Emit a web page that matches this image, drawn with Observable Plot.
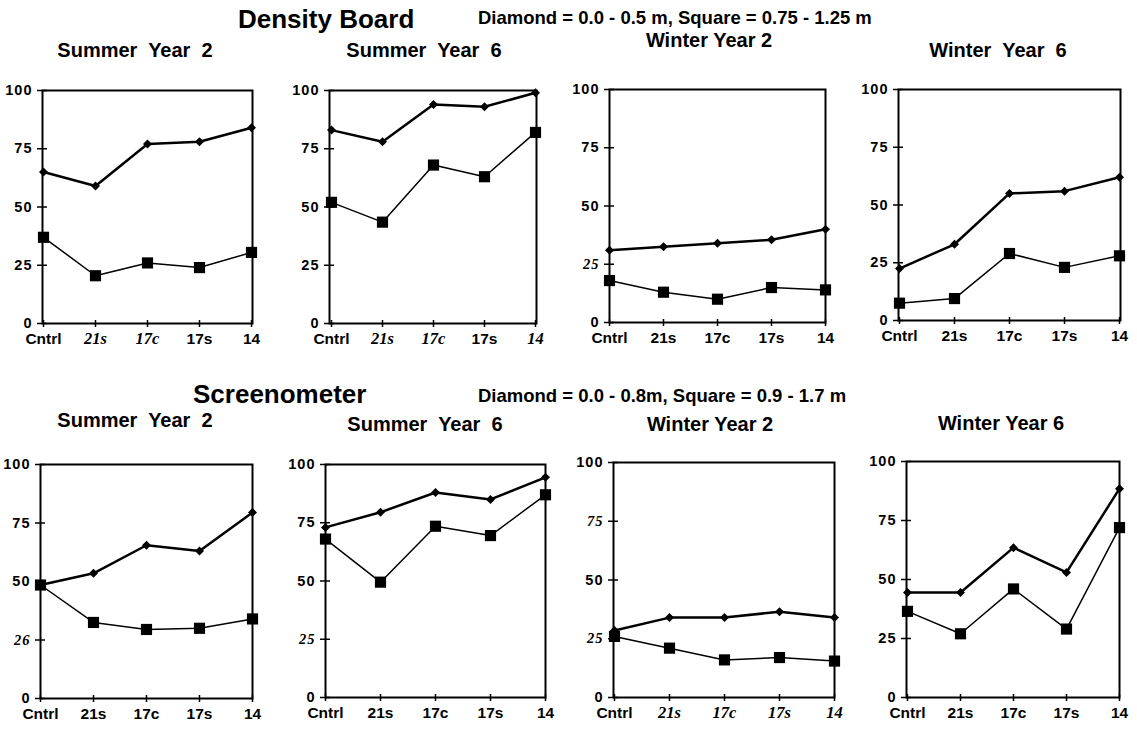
<!DOCTYPE html>
<html><head><meta charset="utf-8">
<script src="https://cdn.jsdelivr.net/npm/d3@7"></script>
<script src="https://cdn.jsdelivr.net/npm/@observablehq/plot@0.6"></script>
<style>
body{margin:0;background:#fff;}
#root{position:relative;width:1137px;height:729px;overflow:hidden;font-family:"Liberation Sans",Arial,sans-serif;color:#000;background:#fff;}
.t{position:absolute;white-space:pre;font-weight:bold;line-height:1;}
.panel{position:absolute;}
</style></head><body><div id="root"></div>
<script>
// ---------- data ----------
const categories = ["Cntrl", "21s", "17c", "17s", "14"];
const yTicks = [0, 25, 50, 75, 100];
const groupTitles = ["Density Board", "Screenometer"];
const groupLegends = ["Diamond = 0.0 - 0.5 m, Square = 0.75 - 1.25 m", "Diamond = 0.0 - 0.8m, Square = 0.9 - 1.7 m"];
const panelTitles = ["Summer  Year  2", "Summer  Year  6", "Winter Year 2", "Winter  Year  6",
                     "Summer  Year  2", "Summer  Year  6", "Winter Year 2", "Winter Year 6"];
// Density Board (diamond = 0.0-0.5 m, square = 0.75-1.25 m)
const densitySummer2Diamond = [65, 59, 77, 78, 84];
const densitySummer2Square  = [37, 20.5, 26, 24, 30.5];
const densitySummer6Diamond = [83, 78, 94, 93, 99];
const densitySummer6Square  = [52, 43.5, 68, 63, 82];
const densityWinter2Diamond = [31, 32.5, 34, 35.5, 40];
const densityWinter2Square  = [18, 13, 10, 15, 14];
const densityWinter6Diamond = [22.5, 33, 55, 56, 62];
const densityWinter6Square  = [7.5, 9.5, 29, 23, 28];
// Screenometer (diamond = 0.0-0.8 m, square = 0.9-1.7 m)
const screenSummer2Diamond = [48.5, 53.5, 65.5, 63, 79.5];
const screenSummer2Square  = [48.5, 32.5, 29.5, 30, 34];
const screenSummer6Diamond = [73, 79.5, 88, 85, 94.5];
const screenSummer6Square  = [68, 49.5, 73.5, 69.5, 87];
const screenWinter2Diamond = [28.5, 34, 34, 36.5, 34];
const screenWinter2Square  = [26, 21, 16, 17, 15.5];
const screenWinter6Diamond = [44.5, 44.5, 63.5, 53, 88.5];
const screenWinter6Square  = [36.5, 27, 46, 29, 72];
// tick label text as printed (panel index -> value -> text)
const yLabelText = {4: {25: "26"}};

// ---------- layout & style ----------
const frames = [
  {l: 42, r: 252, t: 90, b: 323}, {l: 329, r: 536, t: 90, b: 323},
  {l: 609, r: 825, t: 89, b: 322}, {l: 898, r: 1120, t: 89, b: 320},
  {l: 40, r: 252, t: 464, b: 698}, {l: 325, r: 545, t: 464, b: 697},
  {l: 613, r: 834, t: 462, b: 697}, {l: 906, r: 1119, t: 461, b: 697}
];
const italicX = [["21s", "17c"], ["21s", "17c", "14"], [], [], [], [], ["21s", "17c", "17s", "14"], []];
const italicY = [[], [], [25], [], [25], [25], [75, 25], []];
const headLayout = [
  {x: 238, base: 28, size: 26}, {x: 478, base: 25, size: 18.5},
  {x: 193, base: 403, size: 26}, {x: 478, base: 403, size: 18.5}
];
const subLayout = [
  {cx: 135, base: 57}, {cx: 424, base: 57}, {cx: 709, base: 47}, {cx: 998, base: 57},
  {cx: 135, base: 427}, {cx: 425, base: 431}, {cx: 710, base: 431}, {cx: 1001, base: 430}
];
const SANS = "Liberation Sans, Arial, sans-serif";
const SERIF = "Liberation Serif, Times New Roman, serif";

const root = document.getElementById("root");
function addText(txt, x, base, size, center) {
  const d = document.createElement("div");
  d.className = "t";
  d.textContent = txt;
  d.style.fontSize = size + "px";
  d.style.top = (base - 0.8465 * size) + "px";
  d.style.left = x + "px";
  if (center) d.style.transform = "translateX(-50%)";
  root.appendChild(d);
}

const heads = [groupTitles[0], groupLegends[0], groupTitles[1], groupLegends[1]];
heads.forEach((h, i) => addText(h, headLayout[i].x, headLayout[i].base, headLayout[i].size, false));
panelTitles.forEach((h, i) => addText(h, subLayout[i].cx, subLayout[i].base, 20, true));

const series = [
  [densitySummer2Diamond, densitySummer2Square], [densitySummer6Diamond, densitySummer6Square],
  [densityWinter2Diamond, densityWinter2Square], [densityWinter6Diamond, densityWinter6Square],
  [screenSummer2Diamond, screenSummer2Square], [screenSummer6Diamond, screenSummer6Square],
  [screenWinter2Diamond, screenWinter2Square], [screenWinter6Diamond, screenWinter6Square]
];

series.forEach(([diamond, square], i) => {
  const f = frames[i];
  const mL = 52, mR = 12, mT = 8, mB = 30;
  const rows = categories.map((c, j) => ({cat: c, d: diamond[j], s: square[j]}));
  const xIt = italicX[i], yIt = italicY[i];
  const xSans = categories.filter(c => !xIt.includes(c));
  const ySans = yTicks.filter(v => !yIt.includes(v));
  const fmtY = v => (yLabelText[i] && yLabelText[i][v]) || String(v);
  const yAxisOpts = {tickSize: 10, dx: 5, tickPadding: 5, tickFormat: fmtY, fontSize: 14.5, fontWeight: "bold", label: null, strokeWidth: 1.5};
  const xAxisOpts = {tickSize: 7, dy: -3, tickPadding: 5, fontSize: 15.5, fontWeight: "bold", label: null, strokeWidth: 1.5};
  const marks = [
    Plot.frame({stroke: "#000", strokeWidth: 2}),
    Plot.axisY({...yAxisOpts, ticks: ySans, fontFamily: SANS}),
    Plot.axisX({...xAxisOpts, ticks: xSans, fontFamily: SANS})
  ];
  if (yIt.length) marks.push(Plot.axisY({...yAxisOpts, ticks: yIt, fontFamily: SERIF, fontStyle: "italic"}));
  if (xIt.length) marks.push(Plot.axisX({...xAxisOpts, ticks: xIt, fontFamily: SERIF, fontStyle: "italic", fontSize: 16.5}));
  marks.push(
    Plot.line(rows, {x: "cat", y: "d", stroke: "#000", strokeWidth: 2.5}),
    Plot.line(rows, {x: "cat", y: "s", stroke: "#000", strokeWidth: 1.5}),
    Plot.dot(rows, {x: "cat", y: "s", symbol: "square", r: 6.3, fill: "#000", stroke: "none"}),
    Plot.dot(rows, {x: "cat", y: "d", symbol: "square", rotate: 45, r: 3.6, fill: "#000", stroke: "none"})
  );
  const svg = Plot.plot({
    width: f.r - f.l + mL + mR,
    height: f.b - f.t + mT + mB,
    marginLeft: mL, marginRight: mR, marginTop: mT, marginBottom: mB,
    x: {type: "point", domain: categories, padding: 0},
    y: {domain: [0, 100]},
    style: {fontFamily: SANS, background: "transparent", overflow: "visible", color: "#000"},
    marks
  });
  svg.querySelectorAll('[aria-label="y-axis tick label"]').forEach(g => g.setAttribute("letter-spacing", "1"));
  const wrap = document.createElement("div");
  wrap.className = "panel";
  wrap.style.left = (f.l - mL) + "px";
  wrap.style.top = (f.t - mT) + "px";
  wrap.appendChild(svg);
  root.appendChild(wrap);
});
</script>
</body></html>
